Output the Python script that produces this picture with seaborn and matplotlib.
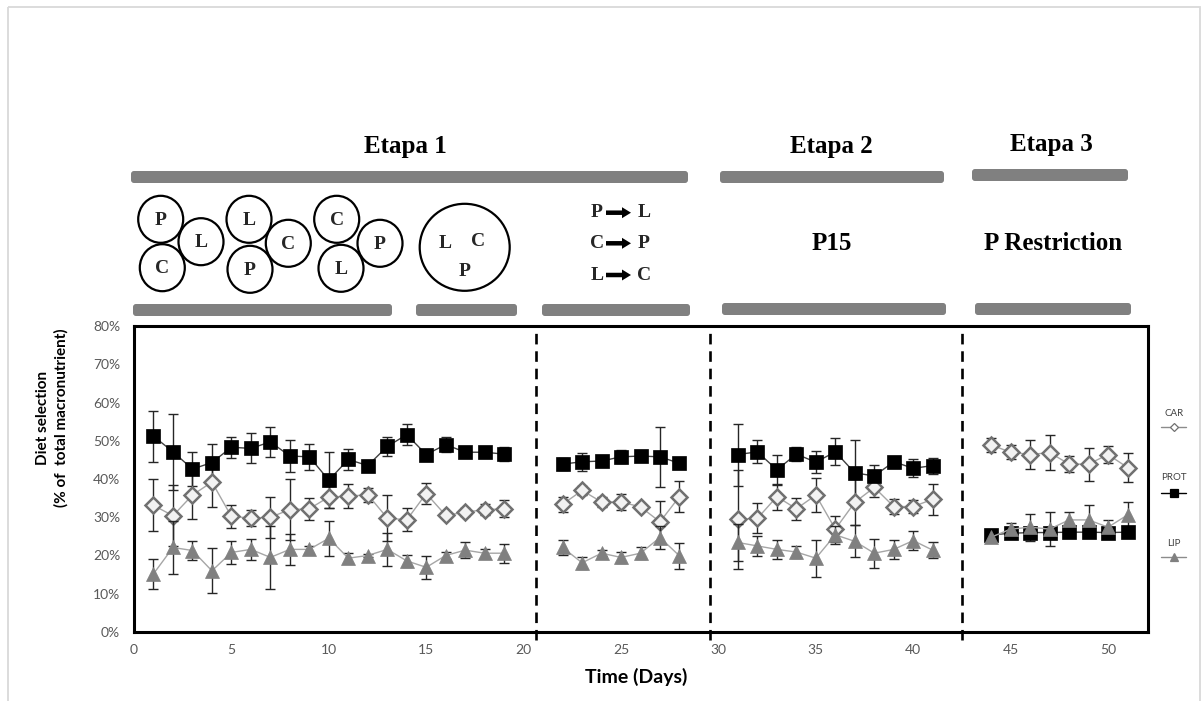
import numpy as np
import pandas as pd
import matplotlib
matplotlib.use("Agg")
import matplotlib.pyplot as plt
import seaborn as sns
from matplotlib.patches import FancyBboxPatch, Ellipse, FancyArrow, Rectangle
from matplotlib.lines import Line2D
from matplotlib.ticker import FuncFormatter

# ---------------- data ----------------
days = [1, 2, 3, 4, 5, 6, 7, 8, 9, 10, 11, 12, 13, 14, 15, 16, 17, 18, 19,
        22, 23, 24, 25, 26, 27, 28,
        31, 32, 33, 34, 35, 36, 37, 38, 39, 40, 41,
        44, 45, 46, 47, 48, 49, 50, 51]
segment = [1] * 19 + [2] * 7 + [3] * 11 + [4] * 8

car = [33.1, 30.4, 35.8, 39.2, 30.2, 29.8, 30.0, 32.0, 32.2, 35.3, 35.5, 35.9, 29.8, 29.3, 36.2, 30.5, 31.3, 32.0, 32.2,
       33.4, 37.0, 34.0, 34.0, 32.7, 28.8, 35.4,
       29.5, 29.7, 35.4, 32.2, 35.8, 26.9, 33.9, 37.8, 32.8, 32.8, 34.7,
       48.9, 47.0, 46.4, 46.9, 43.9, 43.9, 46.4, 43.0]
car_err = [6.8, 8.0, 6.3, 6.6, 2.9, 2.0, 5.3, 8.0, 2.8, 3.0, 3.2, 1.8, 6.0, 3.0, 2.8, 0.5, 1.0, 1.4, 2.2,
           2.0, 1.2, 1.4, 2.2, 0.5, 5.5, 4.0,
           12.9, 3.9, 3.4, 2.9, 4.5, 3.4, 6.0, 2.6, 1.9, 1.8, 4.0,
           1.9, 1.9, 3.8, 4.5, 2.0, 4.3, 2.3, 3.7]

prot = [51.2, 47.1, 42.6, 44.3, 48.3, 48.0, 49.7, 46.0, 45.8, 39.7, 45.1, 43.5, 48.5, 51.6, 46.4, 49.0, 47.0, 47.0, 46.5,
        43.9, 44.5, 44.7, 45.8, 46.0, 45.8, 44.1,
        46.4, 47.1, 42.4, 46.5, 44.4, 47.1, 41.6, 40.8, 44.5, 42.8, 43.5,
        25.4, 25.8, 26.0, 26.0, 26.1, 26.1, 26.0, 26.1]
prot_err = [6.7, 10.0, 4.5, 4.9, 2.8, 3.9, 3.9, 4.2, 3.4, 7.4, 2.8, 0.5, 2.4, 2.7, 0.5, 1.9, 0.5, 0.5, 1.8,
            1.5, 2.3, 0.5, 1.7, 0.5, 7.8, 0.8,
            8.1, 3.0, 4.0, 1.9, 2.8, 3.5, 8.6, 2.9, 0.5, 2.4, 2.1,
            0.5, 0.5, 0.5, 1.5, 0.5, 0.5, 0.5, 0.5]

lip = [15.2, 22.1, 21.3, 16.0, 20.8, 21.6, 19.5, 21.6, 21.6, 24.5, 19.3, 20.0, 21.6, 18.6, 16.9, 20.0, 21.4, 20.6, 20.6,
       22.1, 18.1, 20.6, 19.5, 20.6, 24.7, 19.9,
       23.4, 22.5, 21.6, 20.9, 19.3, 25.4, 23.7, 20.6, 21.6, 23.9, 21.4,
       24.8, 26.9, 27.4, 26.9, 29.3, 29.3, 27.4, 30.6]
lip_err = [3.9, 7.0, 2.4, 5.9, 3.1, 2.7, 8.2, 4.0, 1.0, 4.5, 1.3, 0.5, 4.3, 1.6, 3.0, 0.8, 2.0, 1.2, 2.5,
           2.0, 1.5, 0.8, 1.5, 1.5, 3.0, 3.3,
           4.8, 2.5, 2.5, 1.6, 4.8, 2.4, 4.2, 3.8, 2.5, 2.4, 2.0,
           0.5, 1.5, 3.5, 4.5, 2.0, 4.0, 2.0, 3.4]

stage_breaks = [20.64, 29.57, 42.5]
series_names = ["CAR", "PROT", "LIP"]
x_ticks = [0, 5, 10, 15, 20, 25, 30, 35, 40, 45, 50]
y_ticks = [0, 10, 20, 30, 40, 50, 60, 70, 80]

df = pd.DataFrame({"day": days, "segment": segment,
                   "CAR": car, "CAR_err": car_err,
                   "PROT": prot, "PROT_err": prot_err,
                   "LIP": lip, "LIP_err": lip_err})

# ---------------- styling ----------------
sns.set_style("white")
plt.rcParams["font.family"] = ["Lato", "DejaVu Sans"]

styles = {
    "CAR": dict(color="#a6a6a6", lw=1.0, marker="D", markersize=8.0,
                markerfacecolor="#f2f2f2", markeredgecolor="#707070", markeredgewidth=1.8, z=3),
    "PROT": dict(color="#404040", lw=1.0, marker="s", markersize=10.5,
                 markerfacecolor="black", markeredgecolor="black", markeredgewidth=0.5, z=4),
    "LIP": dict(color="#a6a6a6", lw=1.0, marker="^", markersize=10.5,
                markerfacecolor="#808080", markeredgecolor="#808080", markeredgewidth=0.5, z=5),
}

W, H = 1204, 701
fig = plt.figure(figsize=(W / 100, H / 100), dpi=100)
fig.patch.set_facecolor("white")

ax = fig.add_axes([134 / W, 1 - 632 / H, (1148 - 134) / W, (632 - 326) / H])

for name in series_names:
    st = dict(styles[name])
    z = st.pop("z")
    ax.errorbar(df["day"], df[name], yerr=df[name + "_err"], fmt="none",
                ecolor="#262626", elinewidth=1.0, capsize=3.8, capthick=1.0, zorder=z - 1.5)
    sns.lineplot(data=df, x="day", y=name, units="segment", estimator=None,
                 sort=False, ax=ax, legend=False, zorder=z, **st)

for xb in stage_breaks:
    ax.vlines(xb, -2.2, 79.4, colors="black", linestyles=(0, (4, 2.6)), lw=1.9,
              clip_on=False, zorder=6)

ax.set_xlim(0, 52.05)
ax.set_ylim(0, 80)
ax.set_xticks(x_ticks)
ax.set_yticks(y_ticks)
ax.yaxis.set_major_formatter(FuncFormatter(lambda v, p: f"{v:.0f}%"))
ax.tick_params(axis="both", length=0, labelsize=10, labelcolor="#595959")
ax.tick_params(axis="y", pad=10)
ax.tick_params(axis="x", pad=9)
ax.set_xlabel("")
ax.set_ylabel("")
for sp in ax.spines.values():
    sp.set_visible(True)
    sp.set_color("black")
    sp.set_linewidth(2.2)

fig.text(636 / W, 1 - 677 / H, "Time (Days)", ha="center", va="center",
         fontsize=14, fontweight="bold", color="black")
fig.text(52 / W, 1 - 418 / H, "Diet selection\n(% of  total macronutrient)", ha="center",
         va="center", rotation=90, fontsize=11, fontweight="bold", color="black",
         multialignment="center", linespacing=1.35)

# ---------------- overlay (schematic header + legend) ----------------
ov = fig.add_axes([0, 0, 1, 1], zorder=10)
ov.set_xlim(0, W)
ov.set_ylim(H, 0)
ov.axis("off")
ov.patch.set_alpha(0)

ov.add_patch(Rectangle((8, 7), 1192, 720, fill=False, ec="#d9d9d9", lw=1.3))

bars = [(131, 171, 557, 12), (720, 171, 224, 12), (972, 169, 156, 12),
        (133, 304, 259, 12), (416, 304, 101, 12), (542, 304, 148, 12),
        (722, 303, 224, 12), (975, 303, 156, 12)]
for x0, y0, w, h in bars:
    ov.add_patch(FancyBboxPatch((x0 + 3, y0 + 3), w - 6, h - 6,
                                boxstyle="round,pad=3,rounding_size=3",
                                fc="#808080", ec="none"))

serif = ["Liberation Serif", "DejaVu Serif"]
for txt, x, y in [("Etapa 1", 405, 147), ("Etapa 2", 831, 147), ("Etapa 3", 1051, 145),
                  ("P15", 832, 243), ("P Restriction", 1053, 243)]:
    ov.text(x, y, txt, ha="center", va="center", fontsize=18, fontweight="bold",
            family=serif, color="black")

circles = [("P", 160.7, 219.3), ("L", 201, 241.7), ("C", 162.3, 267.7),
           ("L", 249, 219.3), ("C", 288.3, 243.3), ("P", 250, 269.3),
           ("C", 336.7, 219.3), ("P", 380, 243.3), ("L", 341, 268.3)]
for letter, cx, cy in circles:
    ov.add_patch(Ellipse((cx, cy), 45, 47, fill=False, ec="black", lw=1.6))
    ov.text(cx, cy + 1, letter, ha="center", va="center", fontsize=14,
            fontweight="bold", family=serif)

ov.add_patch(Ellipse((464.7, 247.3), 90, 87, fill=False, ec="black", lw=1.6))
for letter, cx, cy in [("L", 445, 244), ("C", 478, 242), ("P", 465, 272)]:
    ov.text(cx, cy, letter, ha="center", va="center", fontsize=14,
            fontweight="bold", family=serif)

for a, b, y in [("P", "L", 212.7), ("C", "P", 243.3), ("L", "C", 275)]:
    ov.text(597, y, a, ha="center", va="center", fontsize=14, fontweight="bold", family=serif)
    ov.text(644, y, b, ha="center", va="center", fontsize=14, fontweight="bold", family=serif)
    ov.add_patch(FancyArrow(606, y, 25, 0, width=4.5, head_width=11, head_length=9,
                            length_includes_head=True, fc="black", ec="black", lw=0))

# legend (drawn manually: label above a short marker line)
leg = [("CAR", 413, 427), ("PROT", 478, 493), ("LIP", 544, 557)]
for name, ty, ly in leg:
    st = styles[name]
    ov.text(1174, ty, name, ha="center", va="center", fontsize=7, color="#404040")
    ov.add_line(Line2D([1161, 1186], [ly, ly],
                       color="black" if name == "PROT" else "#8c8c8c", lw=1.0))
    ov.add_line(Line2D([1173.5], [ly], marker=st["marker"], markersize=st["markersize"] * 0.5,
                       markerfacecolor="white" if name == "CAR" else st["markerfacecolor"],
                       markeredgecolor=st["markeredgecolor"], markeredgewidth=0.9, lw=0))

fig.savefig("out.png", dpi=100, facecolor="white")
